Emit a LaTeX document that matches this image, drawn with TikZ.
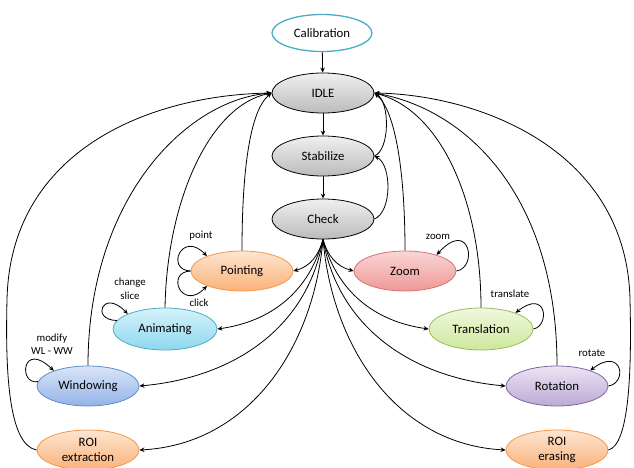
\documentclass[tikz,border=0pt]{standalone}
\usepackage{fontspec}
\setmainfont{Carlito}
\usetikzlibrary{shapes.geometric,arrows.meta}
\definecolor{grayT}{HTML}{F0F0F0}\definecolor{grayB}{HTML}{BBBBBB}
\definecolor{orT}{HTML}{FDE5D0}\definecolor{orB}{HTML}{F9B27A}\definecolor{orD}{HTML}{F79646}
\definecolor{rdT}{HTML}{F9D6D6}\definecolor{rdB}{HTML}{EE9896}\definecolor{rdD}{HTML}{D9716E}
\definecolor{grT}{HTML}{EFF8DE}\definecolor{grB}{HTML}{CDE89C}\definecolor{grD}{HTML}{9BBB59}
\definecolor{cyT}{HTML}{D6F2FA}\definecolor{cyB}{HTML}{8ED8EF}\definecolor{cyD}{HTML}{4BACC6}
\definecolor{blT}{HTML}{DAE5F7}\definecolor{blB}{HTML}{93B3E8}\definecolor{blD}{HTML}{5F8DCB}
\definecolor{puT}{HTML}{ECE4F3}\definecolor{puB}{HTML}{BDA9D6}\definecolor{puD}{HTML}{8064A2}
\tikzset{
  st/.style={ellipse, minimum width=102pt, minimum height=40pt, inner sep=0pt,
    font=\fontsize{12.8}{14.5}\selectfont, align=center, line width=0.8pt},
  grayst/.style={st, draw=black, top color=grayT, bottom color=grayB},
  orst/.style={st, draw=orD, top color=orT, bottom color=orB},
  rdst/.style={st, draw=rdD, top color=rdT, bottom color=rdB},
  grst/.style={st, draw=grD, top color=grT, bottom color=grB, minimum width=104pt, minimum height=42pt},
  cyst/.style={st, draw=cyD, top color=cyT, bottom color=cyB, minimum width=104pt, minimum height=42pt},
  blst/.style={st, draw=blD, top color=blT, bottom color=blB},
  pust/.style={st, draw=puD, top color=puT, bottom color=puB},
  arr/.style={draw=black, line width=0.8pt, -{Stealth[length=5pt,width=4.5pt]}},
  lab/.style={font=\fontsize{10.8}{13.5}\selectfont, align=center, inner sep=0pt}
}
\begin{document}
\begin{tikzpicture}[x=1pt,y=1pt]
\clip (0,-468) rectangle (634,0);
\useasboundingbox (0,-468) rectangle (634,0);
% nodes
\node[st, draw=cyD, fill=white, line width=1.3pt, minimum width=100pt, minimum height=37pt] (Cal) at (322,-33) {Calibration};
\node[grayst] (IDLE) at (323,-93) {IDLE};
\node[grayst] (Stab) at (323,-156) {Stabilize};
\node[grayst] (Check) at (323,-219) {Check};
\node[orst] (Point) at (242,-271) {Pointing};
\node[rdst] (Zoom) at (405,-271) {Zoom};
\node[cyst] (Anim) at (165,-329) {Animating};
\node[grst] (Trans) at (481,-329) {Translation};
\node[blst] (Wind) at (88,-386) {Windowing};
\node[pust] (Rot) at (557,-386) {Rotation};
\node[orst] (ROIx) at (88,-450) {ROI\\extraction};
\node[orst] (ROIe) at (557,-450) {ROI\\erasing};
% main chain
\draw[arr] (Cal) -- (IDLE);
\draw[arr] (IDLE) -- (Stab);
\draw[arr] (Stab) -- (Check);
\draw[arr] (Check.east) .. controls (392,-212) and (392,-165) .. (Stab.east);
\draw[arr] (Stab.east) .. controls (390,-150) and (390,-102) .. (IDLE.east);
% returns to IDLE (left)
\draw[arr] (Point.north) .. controls (242,-170) and (250,-110) .. (IDLE.west);
\draw[arr] (Anim.north) .. controls (167,-200) and (210,-105) .. (IDLE.west);
\draw[arr] (Wind.north) .. controls (88,-200) and (185,-100) .. (IDLE.west);
\draw[arr] (ROIx.west) .. controls (10,-445) and (5,-380) .. (7,-300) .. controls (10,-150) and (150,-95) .. (IDLE.west);
% returns to IDLE (right)
\draw[arr] (Zoom.north) .. controls (405,-170) and (395,-110) .. (IDLE.east);
\draw[arr] (Trans.north) .. controls (481,-200) and (440,-110) .. (IDLE.east);
\draw[arr] (Rot.north) .. controls (557,-200) and (470,-110) .. (IDLE.east);
\draw[arr] (ROIe.east) .. controls (628,-445) and (632,-380) .. (630,-300) .. controls (627,-150) and (480,-95) .. (IDLE.east);
% Check to states
\draw[arr] (Check.south) to[out=-105,in=15] (Point.east);
\draw[arr] (Check.south) to[out=-105,in=8] (Anim.east);
\draw[arr] (Check.south) to[out=-100,in=5] (Wind.east);
\draw[arr] (Check.south) to[out=-95,in=3] (ROIx.east);
\draw[arr] (Check.south) to[out=-75,in=165] (Zoom.west);
\draw[arr] (Check.south) to[out=-75,in=172] (Trans.west);
\draw[arr] (Check.south) to[out=-80,in=175] (Rot.west);
\draw[arr] (Check.south) to[out=-85,in=177] (ROIe.west);
% self loops
\draw[arr] (Point.west) .. controls (165,-270) and (182,-230) .. (Point.157);
\node[lab] (lpoint) at (201,-236) {point};
\draw[arr] (Point.west) .. controls (165,-272) and (182,-312) .. (Point.203);
\node[lab] (lclick) at (199,-303) {click};
\draw[arr] (Zoom.east) .. controls (478,-268) and (470,-218) .. (Zoom.27);
\node[lab] (lzoom) at (438,-237) {zoom};
\draw[arr] (Anim.170) .. controls (90,-320) and (103,-288) .. (Anim.158);
\node[lab] (lanim) at (130,-289) {change\\slice};
\draw[arr] (Trans.east) .. controls (550,-326) and (547,-288) .. (Trans.25);
\node[lab] (ltrans) at (510,-294) {translate};
\draw[arr] (Wind.175) .. controls (18,-385) and (22,-340) .. (Wind.156);
\node[lab] (lwind) at (52,-344) {modify\\WL - WW};
\draw[arr] (Rot.east) .. controls (628,-383) and (622,-346) .. (Rot.25);
\node[lab] (lrot) at (592,-353) {rotate};
\end{tikzpicture}
\end{document}
